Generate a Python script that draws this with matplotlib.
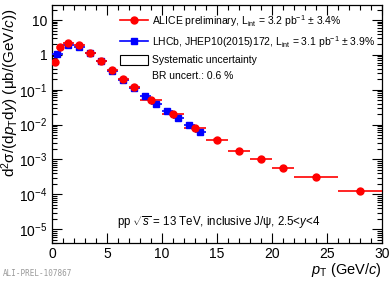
import numpy as np
import matplotlib
matplotlib.use("Agg")
from matplotlib import pyplot as plt
from matplotlib.patches import Rectangle
from matplotlib.lines import Line2D
from matplotlib.ticker import FixedLocator, FixedFormatter, MultipleLocator

plt.rcParams['font.family'] = ['Liberation Sans', 'DejaVu Sans']
plt.rcParams['mathtext.fontset'] = 'custom'
plt.rcParams['mathtext.rm'] = 'Liberation Sans'
plt.rcParams['mathtext.it'] = 'Liberation Sans:italic'

# ALICE preliminary (pT bins, cross section, stat and syst relative uncertainties)
alice_lo = [0, 0.5, 1, 2, 3, 4, 5, 6, 7, 8, 10, 12, 14, 16, 18, 20, 22, 26]
alice_hi = [0.5, 1, 2, 3, 4, 5, 6, 7, 8, 10, 12, 14, 16, 18, 20, 22, 26, 30]
alice_val = [0.63, 1.64, 2.2, 1.9, 1.15, 0.66, 0.366, 0.20, 0.116, 0.050,
             0.0195, 0.0078, 0.0037, 0.00172, 0.00101, 0.00057, 0.000314, 0.000122]
alice_stat = [0.03, 0.02, 0.02, 0.02, 0.02, 0.02, 0.02, 0.03, 0.03, 0.03,
              0.04, 0.05, 0.06, 0.08, 0.10, 0.12, 0.12, 0.22]
alice_syst = [0.09, 0.08, 0.07, 0.07, 0.07, 0.07, 0.07, 0.07, 0.07, 0.07,
              0.07, 0.08, 0.08, 0.08, 0.08, 0.09, 0.09, 0.10]

# LHCb, JHEP10(2015)172
lhcb_lo = [0, 1, 2, 3, 4, 5, 6, 7, 8, 9, 10, 11, 12, 13]
lhcb_hi = [1, 2, 3, 4, 5, 6, 7, 8, 9, 10, 11, 12, 13, 14]
lhcb_val = [1.03, 1.95, 1.68, 1.15, 0.66, 0.35, 0.195, 0.11, 0.067, 0.0385,
            0.0243, 0.015, 0.0100, 0.0062]
lhcb_stat = [0.01, 0.01, 0.01, 0.01, 0.01, 0.01, 0.01, 0.02, 0.02, 0.03,
             0.04, 0.05, 0.06, 0.08]
lhcb_syst = [0.07] * 14

fig = plt.figure(figsize=(3.9, 2.83), dpi=100)
ax = fig.add_axes([0.1333, 0.1413, 0.846, 0.841])


def draw(lo, hi, val, stat, syst, color, marker, ms, boxw):
    lo, hi, val = np.array(lo), np.array(hi), np.array(val)
    x = (lo + hi) / 2
    for xi, v, s in zip(x, val, syst):
        ax.add_patch(Rectangle((xi - boxw, v * (1 - s)), 2 * boxw, 2 * s * v,
                               facecolor=color, edgecolor='none', alpha=0.35, zorder=2))
    ax.errorbar(x, val, xerr=[x - lo, hi - x], yerr=val * np.array(stat),
                fmt=marker, color=color, ms=ms, lw=1.2, capsize=0, zorder=3)


draw(lhcb_lo, lhcb_hi, lhcb_val, lhcb_stat, lhcb_syst, '#0000ff', 's', 4.5, 0.35)
draw(alice_lo, alice_hi, alice_val, alice_stat, alice_syst, '#ff0000', 'o', 5, 0.35)

ax.set_yscale('log')
ax.set_xlim(0, 30)
ax.set_ylim(4e-6, 27)

ax.xaxis.set_major_locator(MultipleLocator(5))
ax.xaxis.set_minor_locator(MultipleLocator(1))
ax.yaxis.set_major_locator(FixedLocator([1e-5, 1e-4, 1e-3, 1e-2, 1e-1, 1, 10]))
ax.yaxis.set_major_formatter(FixedFormatter(
    ['$10^{-5}$', '$10^{-4}$', '$10^{-3}$', '$10^{-2}$', '$10^{-1}$', '1', '10']))
minors = [m * 10.0 ** e for e in range(-6, 2) for m in range(2, 10)]
ax.yaxis.set_minor_locator(FixedLocator(minors))
ax.yaxis.set_minor_formatter(FixedFormatter([]))

ax.tick_params(which='both', direction='in', top=True, right=True, labelsize=10, width=0.8)
ax.tick_params(which='major', length=7)
ax.tick_params(which='minor', length=3.5)
ax.tick_params(axis='x', pad=3)
for sp in ax.spines.values():
    sp.set_linewidth(0.9)

ax.set_xlabel('$p_{\\rm T}$ (GeV/$c$)', fontsize=10.5, loc='right', labelpad=0)
ax.set_ylabel('d$^{2}$σ/(d$p_{\\rm T}$d$y$) (μb/(GeV/$c$))', fontsize=11, loc='top')
ax.yaxis.set_label_coords(-0.094, 0.985)

handles = [
    Line2D([0], [0], color='#ff0000', marker='o', ms=5, lw=1.2),
    Line2D([0], [0], color='#0000ff', marker='s', ms=4.5, lw=1.2),
    Rectangle((0, 0), 1, 1, facecolor='white', edgecolor='black', lw=0.8),
    Rectangle((0, 0), 1, 1, facecolor='none', edgecolor='none'),
]
labels = [
    'ALICE preliminary, L$_{\\rm int}$ = 3.2 pb$^{-1}$ ± 3.4%',
    'LHCb, JHEP10(2015)172, L$_{\\rm int}$ = 3.1 pb$^{-1}$ ± 3.9%',
    'Systematic uncertainty',
    'BR uncert.: 0.6 %',
]
ax.legend(handles, labels, loc='upper left', bbox_to_anchor=(0.195, 0.985),
          frameon=False, fontsize=7.5, handlelength=2.6, handleheight=1.1,
          handletextpad=0.4, labelspacing=0.5, borderaxespad=0)

ax.text(0.197, 0.085, 'pp $\\sqrt{s}$ = 13 TeV, inclusive J/ψ, 2.5<$y$<4',
        transform=ax.transAxes, fontsize=8.3, ha='left', va='center')

fig.text(0.008, 0.035, 'ALI-PREL-107867', fontsize=5.5, family='DejaVu Sans Mono',
         color='#999999', ha='left', va='center')

fig.savefig('out.png', dpi=100)
